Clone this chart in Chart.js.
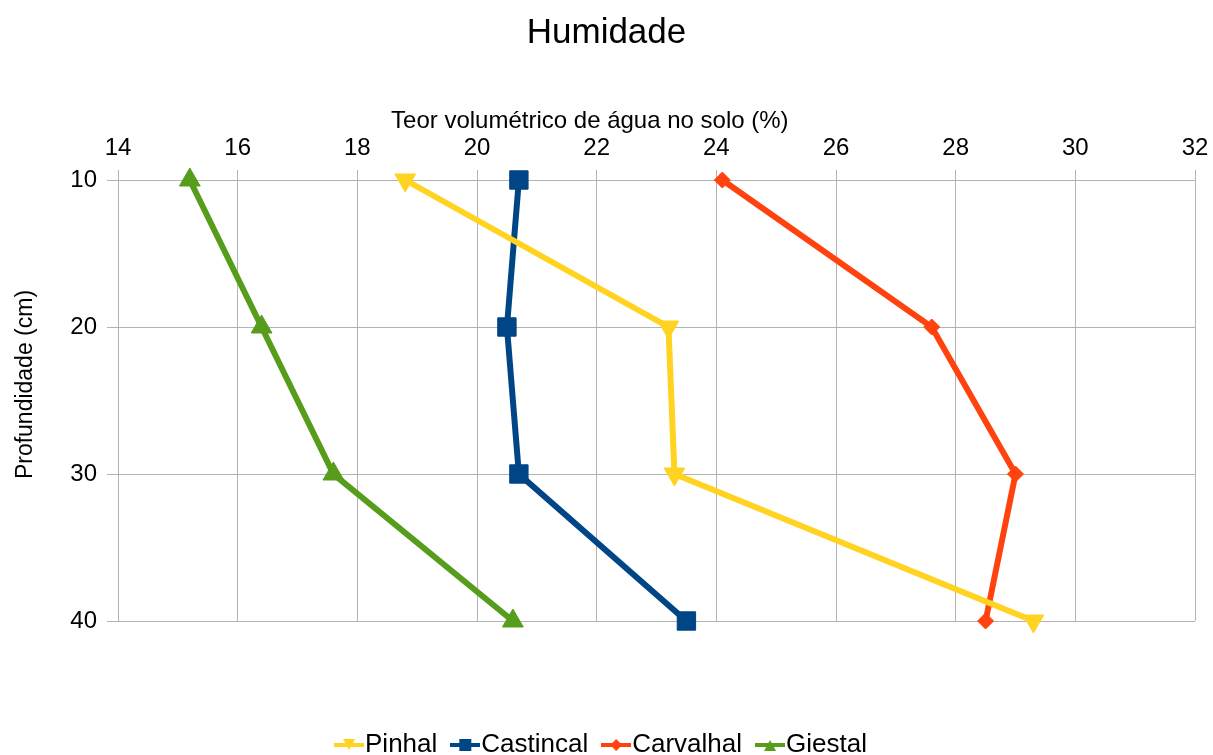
<!DOCTYPE html>
<html>
<head>
<meta charset="utf-8">
<script src="https://cdn.jsdelivr.net/npm/chart.js@4/dist/chart.umd.min.js"></script>
<style>
  body { margin: 0; background: #fff; }
</style>
</head>
<body>
<canvas id="chart" width="1213" height="755"></canvas>
<script>
const depths = [10, 20, 30, 40]
const pinhal = [18.8, 23.2, 23.3, 29.3]
const castincal = [20.7, 20.5, 20.7, 23.5]
const carvalhal = [24.1, 27.6, 29.0, 28.5]
const giestal = [15.2, 16.4, 17.6, 20.6]
const seriesNames = ['Pinhal', 'Castincal', 'Carvalhal', 'Giestal']

const colors = ['#ffd320', '#004586', '#ff420e', '#579d1c']
const font = 'Liberation Sans'

const pts = vals => vals.map((v, i) => ({ x: v, y: depths[i] }))

// small line+marker icons for the legend
function legendIcon(color, kind) {
  const c = document.createElement('canvas')
  c.width = 30
  c.height = 20
  const g = c.getContext('2d')
  g.strokeStyle = color
  g.fillStyle = color
  g.lineWidth = 4
  g.beginPath()
  g.moveTo(0, 10)
  g.lineTo(30, 10)
  g.stroke()
  g.beginPath()
  if (kind === 'down') {
    g.moveTo(9, 4); g.lineTo(21, 4); g.lineTo(15, 15)
  } else if (kind === 'up') {
    g.moveTo(9, 16); g.lineTo(21, 16); g.lineTo(15, 5)
  } else if (kind === 'rect') {
    g.rect(9, 4, 12, 12)
  } else {
    g.moveTo(15, 4); g.lineTo(21, 10); g.lineTo(15, 16); g.lineTo(9, 10)
  }
  g.closePath()
  g.fill()
  return c
}
const icons = [
  legendIcon(colors[0], 'down'),
  legendIcon(colors[1], 'rect'),
  legendIcon(colors[2], 'diamond'),
  legendIcon(colors[3], 'up'),
]

const mk = (i, vals, style, radius, rotation) => ({
  label: seriesNames[i],
  data: pts(vals),
  borderColor: colors[i],
  backgroundColor: colors[i],
  borderWidth: 6,
  pointStyle: style,
  pointRadius: radius,
  pointHoverRadius: radius,
  pointRotation: rotation,
  pointBorderWidth: 1,
  tension: 0,
  clip: false,
})

Chart.defaults.font.family = font
Chart.defaults.color = '#000'

new Chart(document.getElementById('chart'), {
  type: 'line',
  data: {
    datasets: [
      mk(0, pinhal, 'triangle', 12, 180),
      mk(1, castincal, 'rect', 13, 0),
      mk(2, carvalhal, 'rectRot', 8, 0),
      mk(3, giestal, 'triangle', 12, 0),
    ]
  },
  options: {
    responsive: false,
    animation: false,
    layout: { padding: { left: 0, right: 0, top: 0, bottom: -13 } },
    scales: {
      x: {
        type: 'linear',
        position: 'top',
        min: 14,
        max: 32,
        ticks: { stepSize: 2, padding: 7, font: { size: 24 }, color: '#000' },
        grid: { color: '#b3b3b3', tickLength: 10 },
        border: { color: '#b3b3b3' },
        title: {
          display: true,
          text: 'Teor volumétrico de água no solo (%)' + ' '.repeat(20),
          font: { size: 24 },
          padding: { top: 52.6, bottom: 0 },
        },
        afterFit: s => {
          s.height = 126
          s.paddingLeft = 0
          s.paddingRight = 18
        },
      },
      y: {
        type: 'linear',
        reverse: true,
        min: 10,
        max: 40,
        ticks: { stepSize: 10, padding: 10, font: { size: 24 }, color: '#000' },
        grid: { color: '#b3b3b3', tickLength: 11 },
        border: { color: '#b3b3b3' },
        title: {
          display: true,
          text: ' '.repeat(5) + 'Profundidade (cm)',
          font: { size: 23 },
          padding: { top: 12, bottom: 0 },
        },
        afterFit: s => { s.width = 118 },
      },
    },
    plugins: {
      title: {
        display: true,
        text: 'Humidade',
        font: { size: 35, weight: 'normal' },
        color: '#000',
        padding: { top: 12, bottom: 0 },
      },
      legend: {
        position: 'bottom',
        title: { display: true, text: ' ', font: { size: 10 }, padding: { top: 74, bottom: 0 } },
        labels: {
          usePointStyle: true,
          pointStyleWidth: 6,
          boxHeight: 26,
          padding: 25,
          font: { size: 26 },
          color: '#000',
          generateLabels: chart => chart.data.datasets.map((ds, i) => ({
            text: ds.label,
            pointStyle: icons[i],
            fillStyle: ds.borderColor,
            strokeStyle: ds.borderColor,
            lineWidth: 0,
            hidden: false,
            datasetIndex: i,
            fontColor: '#000',
          })),
        },
      },
      tooltip: { enabled: false },
    },
  },
})
</script>
</body>
</html>
